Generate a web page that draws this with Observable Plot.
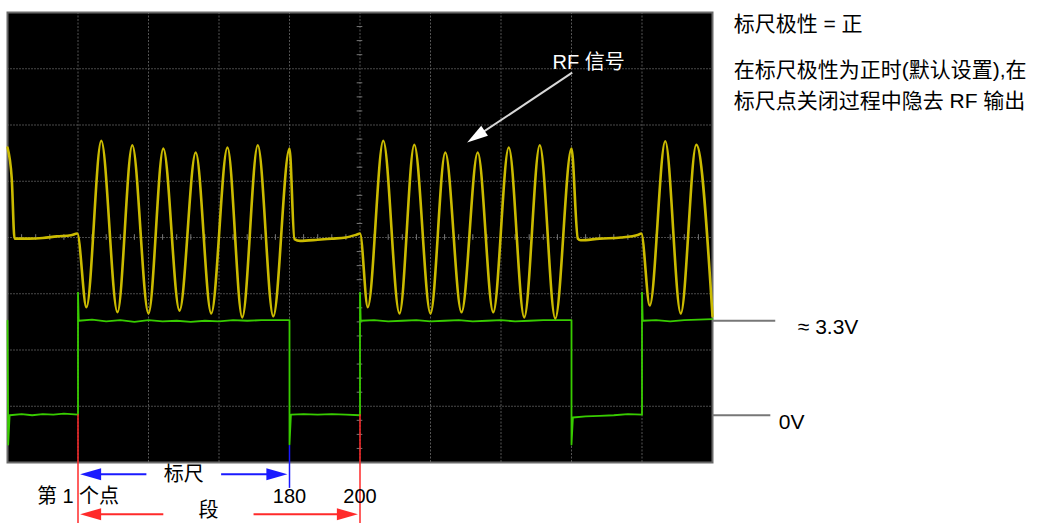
<!DOCTYPE html>
<html>
<head>
<meta charset="utf-8">
<script src="https://cdn.jsdelivr.net/npm/d3@7"></script>
<script src="https://cdn.jsdelivr.net/npm/@observablehq/plot@0.6"></script>
<style>
  html, body { margin: 0; padding: 0; background: #fff; }
  #chart svg { display: block; }
</style>
</head>
<body>
<div id="chart"></div>
<script>
// ---- Data (oscilloscope units: x in horizontal divisions, y in vertical divisions) ----
const yellowX = [0, 0.06, 0.1, 0.3, 0.5, 0.7, 0.9, 0.99,
  1.12, 1.33, 1.56, 1.77, 2.00, 2.21, 2.44, 2.67, 2.89, 3.12, 3.33, 3.55, 3.77, 4.00,
  4.07, 4.15, 4.4, 4.6, 4.8, 4.95, 5.0,
  5.11, 5.33, 5.56, 5.77, 6.00, 6.21, 6.44, 6.67, 6.89, 7.11, 7.33, 7.55, 7.77, 8.00,
  8.09, 8.13, 8.4, 8.7, 8.95, 8.99,
  9.11, 9.33, 9.55, 9.77, 10.0];
const yellowY = [1.6, 1.05, -0.02, -0.02, -0.01, 0.02, 0.04, 0.07,
  -1.24, 1.72, -1.33, 1.64, -1.35, 1.58, -1.30, 1.51, -1.35, 1.60, -1.42, 1.64, -1.40, 1.58,
  -0.03, -0.06, -0.04, -0.02, 0.0, 0.05, 0.07,
  -1.24, 1.72, -1.35, 1.65, -1.35, 1.51, -1.33, 1.51, -1.33, 1.60, -1.42, 1.64, -1.44, 1.58,
  -0.02, -0.05, -0.02, 0.0, 0.05, 0.07,
  -1.21, 1.71, -1.35, 1.65, -1.40];

const greenX = [0, 0.01, 0.03, 0.2, 0.35, 0.5, 0.65, 0.8, 1.0,
  1.0, 1.01,
  1.2, 1.4, 1.6, 1.8, 2.0, 2.2, 2.4, 2.6, 2.8, 3.0, 3.2, 3.4, 3.6, 3.8, 4.0,
  4.0, 4.02,
  4.2, 4.4, 4.6, 4.8, 5.0,
  5.0, 5.01,
  5.2, 5.4, 5.6, 5.8, 6.0, 6.2, 6.4, 6.6, 6.8, 7.0, 7.2, 7.4, 7.6, 7.8, 8.0,
  8.0, 8.02,
  8.2, 8.4, 8.6, 8.8, 9.0,
  9.0, 9.01,
  9.2, 9.4, 9.6, 9.8, 10.0];
const greenY = [-1.48, -3.68, -3.16, -3.14, -3.16, -3.14, -3.15, -3.13, -3.15,
  -0.98, -1.48,
  -1.46, -1.49, -1.47, -1.50, -1.47, -1.49, -1.48, -1.50, -1.48, -1.49, -1.47, -1.48, -1.47, -1.47, -1.47,
  -3.68, -3.15,
  -3.14, -3.15, -3.14, -3.15, -3.16,
  -0.98, -1.48,
  -1.47, -1.49, -1.48, -1.47, -1.49, -1.48, -1.47, -1.49, -1.48, -1.47, -1.49, -1.48, -1.47, -1.47, -1.47,
  -3.68, -3.2,
  -3.18, -3.17, -3.16, -3.14, -3.15,
  -0.98, -1.48,
  -1.47, -1.49, -1.47, -1.46, -1.45];

const gridX = [1, 2, 3, 4, 5, 6, 7, 8, 9];
const gridY = [-3, -2, -1, 0, 1, 2, 3];

// Level annotations
const levelNames = ["≈ 3.3V", "0V"];
const levelValues = [-1.48, -3.16];

// Right-hand notes
const notes = ["标尺极性 = 正", "在标尺极性为正时(默认设置),在", "标尺点关闭过程中隐去 RF 输出"];

// Marker positions (below the screen)
const markerLabels = ["第 1 个点", "180", "200"];
const markerPos = [1, 4, 5];

// Spans
const spanNames = ["标尺", "段"];
const spanStart = [1, 1];
const spanEnd = [4, 5];

const rfLabel = "RF 信号";

// ---- Derived tables ----
const yellow = yellowX.map((x, i) => ({x, y: yellowY[i]}));
const green = greenX.map((x, i) => ({x, y: greenY[i]}));
const minorX = d3.range(1, 50).map(i => i / 5).filter(v => !gridX.includes(v));
const minorY = d3.range(-15, 16).map(i => i / 4).filter(v => !gridY.includes(v) && v !== 0);

const levels = levelNames.map((name, i) => ({name, y: levelValues[i]}));
const levelLineEnd = [10.89, 10.82];
const levelLabelX = [11.21, 10.94];

const noteRows = notes.map((t, i) => ({t, y: [3.79, 2.97, 2.42][i]}));

const BLUE = "#1a1aff", RED = "#ff2a2a";
const spans = spanNames.map((name, i) => ({
  name, x1: spanStart[i], x2: spanEnd[i],
  y: [-4.21, -4.92][i],
  labelY: [-4.21, -4.86][i],
  color: [BLUE, RED][i],
  labelX: [2.5, 2.85][i],
  gap: [0.53, 0.64][i]
}));
const markers = markerLabels.map((label, i) => ({label, x: markerPos[i]}));

// arrow head symbol: tip at origin, pointing in direction `deg` (clockwise from up)
function arrowHead(deg, len = 21, half = 6) {
  const a = deg * Math.PI / 180, c = Math.cos(a), s = Math.sin(a);
  const rot = (px, py) => [px * c - py * s, px * s + py * c];
  return {
    draw(ctx) {
      const p1 = rot(half, len), p2 = rot(-half, len);
      ctx.moveTo(0, 0); ctx.lineTo(p1[0], p1[1]); ctx.lineTo(p2[0], p2[1]); ctx.closePath();
    }
  };
}

const FONT = '"Liberation Sans", Arial, "Noto Sans CJK SC", sans-serif';

const spanLines = spans.flatMap(s => [
  {x1: s.x1 + 0.25, x2: s.labelX - s.gap, y: s.y, color: s.color},
  {x1: s.labelX + s.gap, x2: s.x2 - 0.25, y: s.y, color: s.color}
]);
const leftHeads = spans.map(s => ({x: s.x1 + 0.03, y: s.y, color: s.color}));
const rightHeads = spans.map(s => ({x: s.x2 - 0.03, y: s.y, color: s.color}));

const rfArrow = [{x1: 8.01, y1: 2.93, x2: 6.62, y2: 1.77}];

const chart = Plot.plot({
  width: 1037,
  height: 523,
  marginLeft: 7,
  marginRight: 325,
  marginTop: 12,
  marginBottom: 61,
  x: {domain: [0, 10], axis: null},
  y: {domain: [-4, 4], axis: null},
  style: {background: "#fff", fontFamily: FONT},
  marks: [
    Plot.frame({fill: "#000"}),
    Plot.ruleX(gridX, {stroke: "#555", strokeWidth: 1, strokeDasharray: "2,1.5"}),
    Plot.ruleY(gridY, {stroke: "#4a4a4a", strokeWidth: 1, strokeDasharray: "2,1"}),
    Plot.ruleX(minorX, {y1: -0.05, y2: 0.05, stroke: "#777"}),
    Plot.ruleY(minorY, {x1: 4.96, x2: 5.04, stroke: "#777"}),
    Plot.frame({stroke: "#6a6a6a", strokeWidth: 2}),
    // traces
    Plot.line(green, {x: "x", y: "y", stroke: "#38cc00", strokeWidth: 1.8}),
    Plot.line(yellow, {x: "x", y: "y", curve: "monotone-x", stroke: "#cbbb00", strokeWidth: 2.6}),
    // RF label + arrow
    Plot.text([rfLabel], {x: 7.73, y: 3.11, text: d => d, fill: "#fff", fontSize: 20, textAnchor: "start", fontFamily: FONT}),
    Plot.link(rfArrow, {x1: "x1", y1: "y1", x2: "x2", y2: "y2", stroke: "#d8d8d8", strokeWidth: 2}),
    Plot.dot([{x: 6.52, y: 1.69}], {x: "x", y: "y", symbol: arrowHead(236), r: 1, fill: "#fff", stroke: "none"}),
    // level annotations
    Plot.link(levels, {x1: 10, x2: (d, i) => levelLineEnd[i], y1: "y", y2: "y", stroke: "#777", strokeWidth: 2}),
    Plot.text(levels, {x: (d, i) => levelLabelX[i], y: d => d.y - 0.12, text: "name", textAnchor: "start", fontSize: 21, fill: "#000", fontFamily: FONT}),
    // notes
    Plot.text(noteRows, {x: 10.3, y: "y", text: "t", textAnchor: "start", fontSize: 21, fill: "#000", fontFamily: FONT}),
    // marker verticals
    Plot.ruleX([markerPos[0], markerPos[2]], {y1: -3.15, y2: -5.1, stroke: RED, strokeWidth: 1.5}),
    Plot.ruleX([markerPos[1]], {y1: -3.7, y2: -4.46, stroke: BLUE, strokeWidth: 1.5}),
    Plot.text(markers, {x: "x", y: -4.6, text: "label", fontSize: 20, fill: "#000", fontFamily: FONT}),
    // spans
    Plot.link(spanLines, {x1: "x1", x2: "x2", y1: "y", y2: "y", stroke: "color", strokeWidth: 2}),
    Plot.dot(leftHeads, {x: "x", y: "y", symbol: arrowHead(-90), r: 1, fill: "color", stroke: "none"}),
    Plot.dot(rightHeads, {x: "x", y: "y", symbol: arrowHead(90), r: 1, fill: "color", stroke: "none"}),
    Plot.text(spans, {x: "labelX", y: "labelY", text: "name", fontSize: 20, fill: "#000", fontFamily: FONT})
  ]
});
document.getElementById("chart").appendChild(chart);
</script>
</body>
</html>
